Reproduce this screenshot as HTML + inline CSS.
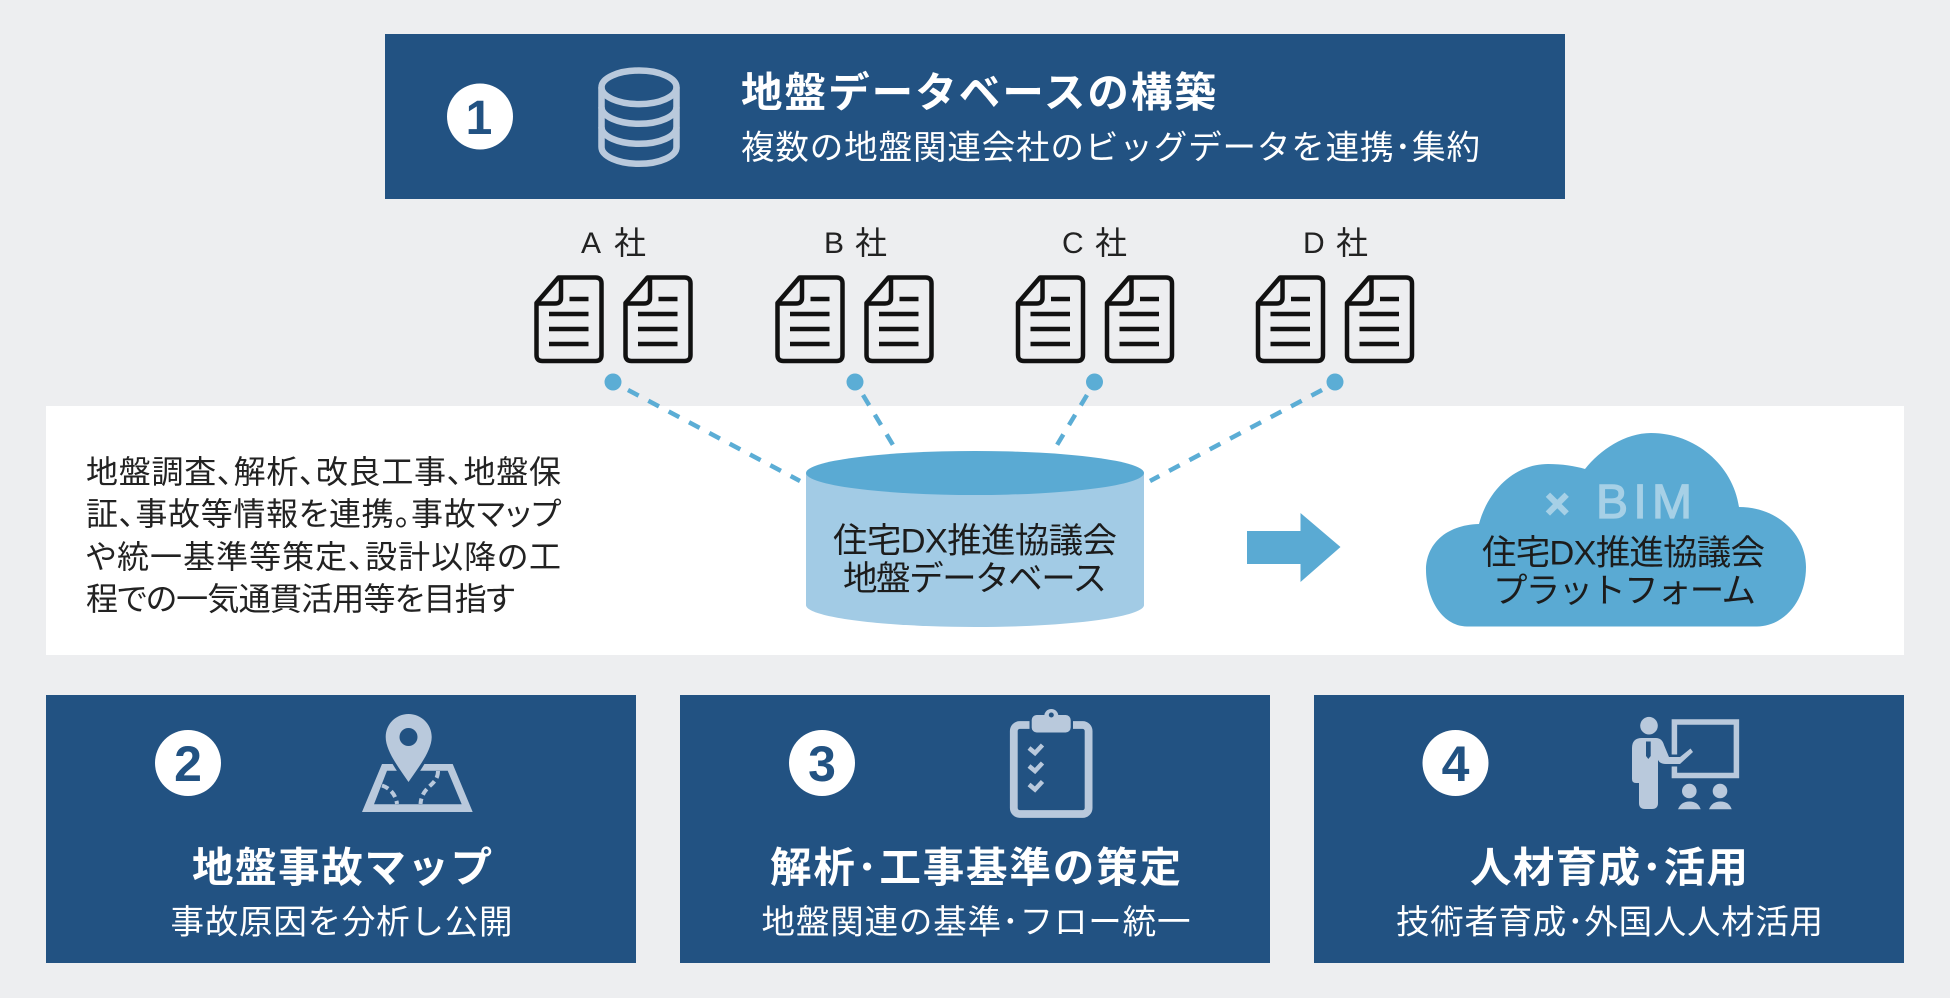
<!DOCTYPE html>
<html lang="ja"><head><meta charset="utf-8"><title>地盤データベース</title>
<style>
html,body{margin:0;padding:0;background:#edeef0;width:1950px;height:998px;overflow:hidden}
svg{display:block}
text{font-family:"Liberation Sans","Noto Sans CJK JP",sans-serif}
.b{font-weight:700;fill:#fff;font-size:41.5px}
.s{fill:#fff;font-size:33.5px;font-weight:400}
.d{fill:#1c1c1c;font-size:34.5px}
.l{fill:#222;font-size:32px;font-feature-settings:"palt"}
.n{font-weight:700;fill:#225282;font-size:50px;text-anchor:middle}
.c{fill:#222;font-size:30px}
.k{fill:#222;font-size:32px}
</style></head><body>
<svg width="1950" height="998" viewBox="0 0 1950 998" xmlns="http://www.w3.org/2000/svg">
<defs>
<g id="doc" fill="none" stroke="#111" stroke-width="4.500" stroke-linejoin="round">
<path d="M2 28 L24 2.500 H61 Q67 2.500 67 8.500 V80 Q67 86 61 86 H8 Q2 86 2 80 Z"/>
<path d="M26.500 2.500 V23 Q26.500 28.500 20.500 28.500 H2"/>
<path d="M35 24 H54 M14.500 39 H54 M14.500 54 H54 M14.500 69 H54"/>
</g>
</defs>
<rect width="1950" height="998" fill="#edeef0"/>

<!-- top box -->
<rect x="385" y="34" width="1180" height="165" fill="#225282"/>
<circle cx="480" cy="116.500" r="33" fill="#fff"/>
<text x="479" y="134" class="n" style="font-size:48px">1</text>
<g fill="none" stroke="#b9c9dc" stroke-width="6.500">
<ellipse cx="639" cy="87.300" rx="37.500" ry="16.800"/>
<path d="M601.500 87.300 V147 A37.500 16.800 0 0 0 676.500 147 V87.300"/>
<path d="M601.500 107 A37.500 16.800 0 0 0 676.500 107"/>
<path d="M601.500 127 A37.500 16.800 0 0 0 676.500 127"/>
</g>
<text x="741" y="107" class="b" textLength="475">地盤データベースの構築</text>
<text x="741" y="159" class="s" textLength="739">複数の地盤関連会社のビッグデータを連携･集約</text>

<!-- company labels -->
<text x="581" y="253" class="c">A</text><text x="614" y="254" class="k">社</text>
<text x="824" y="253" class="c">B</text><text x="855" y="254" class="k">社</text>
<text x="1062" y="253" class="c">C</text><text x="1095" y="254" class="k">社</text>
<text x="1303" y="253" class="c">D</text><text x="1336" y="254" class="k">社</text>

<use href="#doc" x="534.500" y="275"/><use href="#doc" x="623.500" y="275"/>
<use href="#doc" x="775.500" y="275"/><use href="#doc" x="864.500" y="275"/>
<use href="#doc" x="1016" y="275"/><use href="#doc" x="1105" y="275"/>
<use href="#doc" x="1256" y="275"/><use href="#doc" x="1345" y="275"/>

<!-- white band -->
<rect x="46" y="406" width="1858" height="249" fill="#fff"/>

<!-- dashed connectors -->
<g stroke="#5badd5" stroke-width="4.500" stroke-dasharray="12 11" fill="none">
<path d="M628 390 L800 481"/>
<path d="M863 395 L893 445"/>
<path d="M1087 395 L1057 445"/>
<path d="M1322 390 L1150 481"/>
</g>
<g fill="#5badd5">
<circle cx="613" cy="382" r="8.500"/><circle cx="855" cy="382" r="8.500"/>
<circle cx="1094.500" cy="382" r="8.500"/><circle cx="1335" cy="382" r="8.500"/>
</g>

<!-- cylinder -->
<path d="M806 473 V605 C806 617 881 627 975 627 C1069 627 1144 617 1144 605 V473 Z" fill="#a2cbe5"/>
<ellipse cx="975" cy="473" rx="169" ry="22" fill="#5aaad3"/>
<text x="833" y="552.500" class="d" textLength="284">住宅DX推進協議会</text>
<text x="843" y="590.500" class="d" textLength="264">地盤データベース</text>

<!-- left text -->
<text x="86" y="483" class="l" textLength="475">地盤調査、解析、改良工事、地盤保</text>
<text x="86" y="525" class="l" textLength="475">証、事故等情報を連携。事故マップ</text>
<text x="86" y="568" class="l" textLength="475">や統一基準等策定、設計以降の工</text>
<text x="86" y="610" class="l" textLength="429">程での一気通貫活用等を目指す</text>

<!-- arrow -->
<path d="M1247 531 H1300.500 V513 L1340.500 547 L1300.500 582 V564 H1247 Z" fill="#5aaad3"/>

<!-- cloud -->
<path d="M1467 626.500 C1440 626 1426 595 1426 570 C1426 545 1445 525 1479 524 C1488 490 1515 464 1548 464 C1562 464 1575 466 1585 469 C1600 450 1625 433 1651 433 C1695 433 1733 465 1739 507 C1778 507 1806 535 1806 567 C1806 600 1785 626 1757 626.500 Z" fill="#5aaad3"/>
<text x="1545" y="518" fill="#a6d0e6" stroke="#a6d0e6" stroke-width="1.500" style="font-size:42px;font-weight:700">×</text>
<text x="1596" y="518" fill="#a6d0e6" stroke="#a6d0e6" stroke-width="1.300" style="font-size:48px" textLength="96">BIM</text>
<text x="1482" y="564.500" class="d" textLength="283">住宅DX推進協議会</text>
<text x="1493" y="602.500" class="d" textLength="263">プラットフォーム</text>

<!-- bottom boxes -->
<rect x="46" y="695" width="590" height="268" fill="#225282"/>
<rect x="680" y="695" width="590" height="268" fill="#225282"/>
<rect x="1314" y="695" width="590" height="268" fill="#225282"/>

<circle cx="188" cy="763" r="33" fill="#fff"/><text x="188" y="781" class="n">2</text>
<circle cx="822" cy="763" r="33" fill="#fff"/><text x="822" y="781" class="n">3</text>
<circle cx="1455.500" cy="763" r="33" fill="#fff"/><text x="1455.500" y="781" class="n">4</text>

<!-- map icon -->
<path d="M382 764 H452.700 L472.700 812 H362 Z M387 770.700 L374 804.300 H461.700 L447.700 770.700 Z" fill="#b9c9dc" fill-rule="evenodd"/>
<path d="M383 737 C383 722 394 711 408.500 711 C423 711 434 722 434 737 C434 752 420 772 408.500 787 C397 772 383 752 383 737 Z" fill="#225282"/>
<path d="M385.700 737 C385.700 724 396 714 408.500 714 C421 714 431.700 724 431.700 737 C431.700 751 418 768 408.500 782 C399 768 385.700 751 385.700 737 Z" fill="#b9c9dc"/>
<circle cx="408.500" cy="737" r="9" fill="#225282"/>
<g fill="none" stroke="#b9c9dc" stroke-width="4" stroke-dasharray="7 4">
<path d="M382 785.500 C390 788 396 795 397 804"/>
<path d="M438 771 C438 786 422 785 420.500 804"/>
</g>

<!-- clipboard icon -->
<rect x="1013.800" y="725" width="74.800" height="89" rx="6" fill="none" stroke="#b9c9dc" stroke-width="7.800"/>
<rect x="1029.500" y="712.500" width="43.500" height="22" rx="6" fill="#225282"/>
<rect x="1031.700" y="715" width="39" height="17.500" rx="5" fill="#b9c9dc"/>
<circle cx="1051.300" cy="716" r="7" fill="#b9c9dc"/><circle cx="1051.300" cy="715" r="2.500" fill="#225282"/>
<g fill="none" stroke="#b9c9dc" stroke-width="4.500">
<path d="M1029 748 L1035 753 L1042.500 745"/>
<path d="M1029 766 L1035 771 L1042.500 763"/>
<path d="M1029 784.500 L1035 789.500 L1042.500 781.500"/>
</g>

<!-- teacher icon -->
<circle cx="1649" cy="725.700" r="8.800" fill="#b9c9dc"/>
<rect x="1674.400" y="722" width="62" height="53.500" fill="none" stroke="#b9c9dc" stroke-width="5.500"/>
<path d="M1664 747 L1669 757 L1681 757 L1691 749 L1693 752 L1680 764 H1666" fill="none" stroke="#225282" stroke-width="5"/>
<path d="M1632 748 Q1632 738 1642 738 H1656 Q1662 738 1664 745 L1669 757 L1680 757 L1690.500 748.500 L1693 752 L1680 764 H1666 Q1660 764 1658 760 V803 Q1658 809 1652 809 H1645 Q1639 809 1639 803 V783 H1636 Q1632 783 1632 779 Z" fill="#b9c9dc"/>
<path d="M1646 741.500 H1650.700 V756 L1648.300 759 L1646 756 Z" fill="#225282"/>
<g fill="#b9c9dc">
<circle cx="1689.300" cy="791" r="7.300"/><circle cx="1720" cy="791" r="7.300"/>
<path d="M1678 809.300 C1680 804 1684 801.500 1689.500 801.500 C1695 801.500 1699 804 1700.700 809.300 Z"/>
<path d="M1709 809.300 C1711 804 1715 801.500 1720.500 801.500 C1726 801.500 1730 804 1731.700 809.300 Z"/>
</g>

<!-- bottom texts -->
<text x="192" y="882" class="b" textLength="300">地盤事故マップ</text>
<text x="170.500" y="933.500" class="s" textLength="342">事故原因を分析し公開</text>
<text x="770" y="882" class="b" textLength="411">解析･工事基準の策定</text>
<text x="761.500" y="933.500" class="s" textLength="429">地盤関連の基準･フロー統一</text>
<text x="1470" y="882" class="b" textLength="278">人材育成･活用</text>
<text x="1396" y="933.500" class="s" textLength="427">技術者育成･外国人人材活用</text>
</svg>
</body></html>
